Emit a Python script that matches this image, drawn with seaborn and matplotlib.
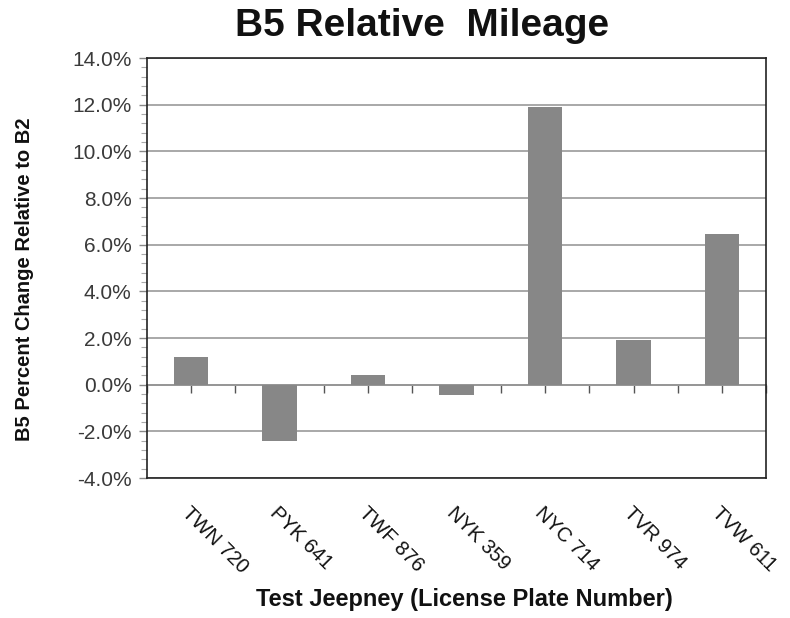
import matplotlib
matplotlib.use("Agg")
import matplotlib.pyplot as plt
from matplotlib.ticker import MultipleLocator, FuncFormatter
import seaborn as sns
import pandas as pd

# Jeepney plates and B5 mileage change relative to B2 (percent)
plates = ["TWN 720", "PYK 641", "TWF 876", "NYK 359", "NYC 714", "TVR 974", "TVW 611"]
pct_change = [1.2, -2.4, 0.4, -0.45, 11.9, 1.9, 6.45]

df = pd.DataFrame({"plate": plates, "change": pct_change})

sns.set_theme(style="white")
plt.rcParams["font.family"] = ["Liberation Sans", "DejaVu Sans"]

fig = plt.figure(figsize=(7.9, 6.18), dpi=100)
ax = fig.add_axes([0.186, 0.2265, 0.784, 0.6795])

sns.barplot(data=df, x="plate", y="change", color="#878787", width=0.39,
            saturation=1, edgecolor="none", linewidth=0, ax=ax, zorder=3)

ax.set_ylim(-4, 14)
ax.set_xlim(-0.5, len(plates) - 0.5)
ax.yaxis.set_major_locator(MultipleLocator(2))
ax.yaxis.set_minor_locator(MultipleLocator(0.4))
ax.yaxis.set_major_formatter(FuncFormatter(lambda v, _: f"{v:.1f}%"))
ax.grid(axis="y", which="major", color="#9a9a9a", linewidth=1.2, zorder=0)

for s in ax.spines.values():
    s.set_visible(True)
    s.set_color("#222222")
    s.set_linewidth(1.2)

ax.tick_params(axis="y", which="major", direction="out", length=6, width=1,
               color="#888888", labelsize=15, labelcolor="#3a3a3a", pad=5, left=True)
ax.tick_params(axis="y", which="minor", direction="out", length=4, width=0.8,
               color="#aaaaaa", left=True)

# Category labels below the frame, slanted downward
ax.tick_params(axis="x", which="both", bottom=False, length=0, pad=18, labelsize=14.5,
               labelcolor="#111111")
for lab in ax.get_xticklabels():
    lab.set_rotation(-45)
    lab.set_ha("left")
    lab.set_va("top")
    lab.set_rotation_mode("anchor")

# Category axis crossing at zero with ticks at centres and boundaries
zero_frac = (0 - (-4)) / (14 - (-4))
sec = ax.secondary_xaxis(zero_frac)
sec.set_xticks([i - 0.5 for i in range(len(plates) + 1)])
sec.set_xticks(list(range(len(plates))), minor=True)
sec.tick_params(which="both", direction="out", length=6, width=1, color="#555555",
                labelbottom=False, labeltop=False, bottom=True)
sec.spines["bottom"].set_color("#8a8a8a")
sec.spines["bottom"].set_linewidth(1.4)
sec.set_xlabel("")

ax.set_xlabel("Test Jeepney (License Plate Number)", fontsize=17, fontweight="bold",
              color="#111111")
ax.xaxis.set_label_coords(0.512, -0.262)
ax.set_ylabel("B5 Percent Change Relative to B2", fontsize=14.5, fontweight="bold",
              color="#111111")
ax.yaxis.set_label_coords(-0.182, 0.474)
fig.text(0.534, 0.958, "B5 Relative  Mileage", ha="center", va="center",
         fontsize=28, fontweight="bold", color="#111111")

fig.savefig("out.png", dpi=100, facecolor="white")
